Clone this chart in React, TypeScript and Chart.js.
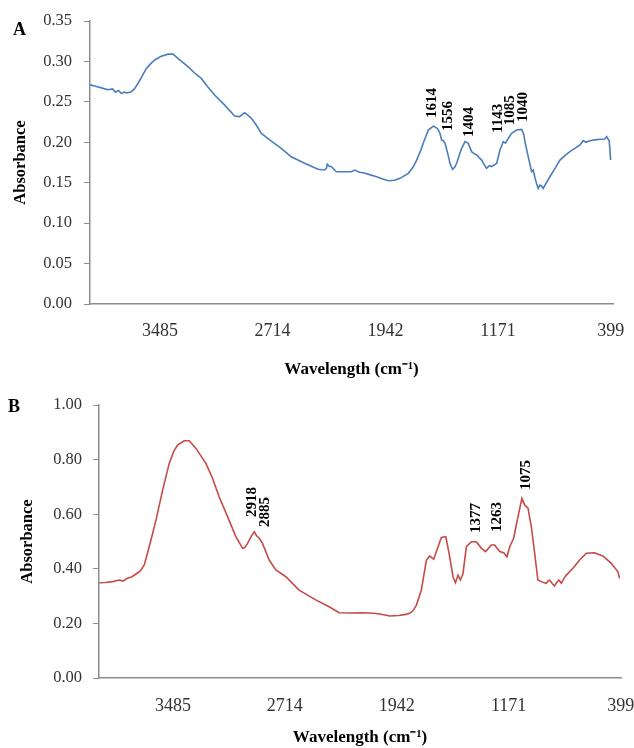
import React, { useEffect, useRef } from "react";
import { Chart, registerables } from "chart.js";

Chart.register(...registerables);

const SERIF = '"Liberation Serif", "Times New Roman", serif';
const AXIS_COLOR = "#8c8c8c";
const TICK_COLOR = "#333333";

// ---------- Panel A ----------
const wavenumbersA = [
  3964, 3920, 3880, 3841, 3810, 3790, 3770, 3750, 3730, 3710, 3681, 3660, 3635, 3610, 3579, 3550,
  3521, 3480, 3430, 3396, 3350, 3293, 3250, 3202, 3160, 3111, 3042, 2974, 2940, 2905, 2880, 2860,
  2826, 2791, 2734, 2655, 2586, 2495, 2403, 2358, 2345, 2340, 2325, 2312, 2278, 2230, 2175, 2152,
  2120, 2093, 2050, 2002, 1960, 1922, 1880, 1842, 1785, 1750, 1728, 1700, 1683, 1648, 1614, 1587,
  1570, 1557, 1545, 1534, 1515, 1500, 1482, 1468, 1454, 1435, 1420, 1397, 1375, 1352, 1335, 1317,
  1300, 1283, 1265, 1249, 1230, 1215, 1195, 1180, 1158, 1135, 1120, 1100, 1078, 1044, 1009, 995,
  987, 964, 941, 930, 918, 907, 896, 884, 873, 862, 840, 816, 780, 747, 710, 679,
  640, 610, 588, 570, 542, 510, 473, 440, 427, 415, 410, 400,
];
const absorbanceA = [
  0.271, 0.269, 0.267, 0.265, 0.266, 0.262, 0.264, 0.2605, 0.262, 0.261, 0.2626, 0.266, 0.273, 0.281, 0.291, 0.297,
  0.3018, 0.306, 0.309, 0.309, 0.302, 0.2935, 0.286, 0.279, 0.269, 0.2585, 0.246, 0.2325, 0.2317, 0.2366, 0.233, 0.2297,
  0.2214, 0.211, 0.203, 0.1926, 0.182, 0.174, 0.1666, 0.1657, 0.168, 0.1728, 0.17, 0.17, 0.1636, 0.1636, 0.1636, 0.1657,
  0.163, 0.1624, 0.16, 0.1574, 0.1545, 0.1525, 0.153, 0.1554, 0.1616, 0.17, 0.178, 0.19, 0.1987, 0.2152, 0.22, 0.2173,
  0.212, 0.2028, 0.202, 0.1987, 0.186, 0.174, 0.1666, 0.169, 0.174, 0.185, 0.1926, 0.2008, 0.1987, 0.1884, 0.186, 0.1843,
  0.181, 0.178, 0.172, 0.1678, 0.171, 0.17, 0.172, 0.174, 0.1905, 0.2008, 0.199, 0.205, 0.211, 0.2152, 0.216, 0.21,
  0.2008, 0.182, 0.1636, 0.1657, 0.156, 0.149, 0.143, 0.147, 0.146, 0.143, 0.15, 0.1574, 0.168, 0.178, 0.184, 0.1884,
  0.193, 0.1966, 0.202, 0.2, 0.202, 0.203, 0.2037, 0.204, 0.207, 0.203, 0.202, 0.178,
];
const peakLabelsA = ["1614", "1556", "1404", "1143", "1085", "1040"];
const peakXA = [1623, 1514, 1370, 1171, 1089, 1000];
const peakYA = [0.23, 0.214, 0.2065, 0.2115, 0.221, 0.225];
const yTicksA = [0, 0.05, 0.1, 0.15, 0.2, 0.25, 0.3, 0.35];

// ---------- Panel B ----------
const wavenumbersB = [
  3993, 3950, 3900, 3855, 3830, 3800, 3770, 3740, 3710, 3683, 3649, 3625, 3602, 3556, 3511, 3480,
  3453, 3408, 3373, 3327, 3258, 3212, 3167, 3109, 3052, 3005, 2990, 2971, 2945, 2925, 2910, 2891,
  2868, 2822, 2776, 2707, 2616, 2501, 2409, 2340, 2260, 2179, 2100, 2060, 1991, 1930, 1880, 1853,
  1830, 1807, 1773, 1755, 1738, 1715, 1700, 1688, 1658, 1635, 1605, 1582, 1555, 1538, 1520, 1504,
  1486, 1463, 1428, 1394, 1359, 1330, 1291, 1268, 1233, 1206, 1183, 1164, 1137, 1107, 1080, 1061,
  1038, 1015, 992, 970, 946, 930, 912, 900, 889, 870, 855, 840, 825, 808, 790, 774,
  728, 682, 636, 579, 522, 464, 418, 407,
];
const absorbanceB = [
  0.349, 0.35, 0.353, 0.359, 0.355, 0.365, 0.37, 0.381, 0.392, 0.414, 0.481, 0.53, 0.579, 0.689, 0.786, 0.83,
  0.853, 0.869, 0.869, 0.841, 0.786, 0.731, 0.664, 0.591, 0.518, 0.475, 0.478, 0.493, 0.52, 0.536, 0.522, 0.512,
  0.493, 0.432, 0.396, 0.371, 0.322, 0.286, 0.261, 0.239, 0.238, 0.239, 0.237, 0.2344, 0.227, 0.229, 0.233, 0.237,
  0.247, 0.267, 0.322, 0.38, 0.432, 0.447, 0.44, 0.435, 0.481, 0.515, 0.518, 0.457, 0.371, 0.349, 0.377, 0.359,
  0.383, 0.481, 0.499, 0.499, 0.475, 0.463, 0.487, 0.487, 0.463, 0.459, 0.444, 0.481, 0.512, 0.591, 0.658, 0.634,
  0.622, 0.554, 0.457, 0.359, 0.353, 0.35, 0.347, 0.355, 0.359, 0.345, 0.337, 0.35, 0.359, 0.347, 0.365, 0.377,
  0.402, 0.432, 0.457, 0.459, 0.447, 0.42, 0.389, 0.365,
];
const peakLabelsB = ["2918", "2885", "1377", "1263", "1075"];
const peakXB = [2941, 2852, 1399, 1254, 1054];
const peakYB = [0.59, 0.553, 0.531, 0.535, 0.689];
const yTicksB = [0, 0.2, 0.4, 0.6, 0.8, 1.0];

const xTickLabels = [3485, 2714, 1942, 1171, 399];

type PanelCfg = {
  letter: string;
  letterX: number;
  letterY: number;
  xs: number[];
  ys: number[];
  color: string;
  xMin: number;
  xMax: number;
  yMax: number;
  yTicks: number[];
  peakLabels: string[];
  peakX: number[];
  peakY: number[];
  yAxisWidth: number;
  xAxisHeight: number;
  padTop: number;
  padRight: number;
  yTickPad: number;
  yTitlePad: number;
  xTickPad: number;
  xTitlePad: number;
};

function makeChart(canvas: HTMLCanvasElement, c: PanelCfg) {
  const overlay = {
    id: "overlay" + c.letter,
    afterDatasetsDraw(chart: any) {
      const { ctx, scales } = chart;
      const x = scales.x;
      const y = scales.y;
      ctx.save();
      ctx.fillStyle = "#000";
      ctx.font = `bold 15px ${SERIF}`;
      ctx.textAlign = "left";
      ctx.textBaseline = "middle";
      c.peakLabels.forEach((lab, i) => {
        const px = x.getPixelForValue(c.peakX[i]);
        const py = y.getPixelForValue(c.peakY[i]);
        ctx.save();
        ctx.translate(px, py);
        ctx.rotate(-Math.PI / 2);
        ctx.fillText(lab, 0, 0);
        ctx.restore();
      });
      ctx.font = `bold 18px ${SERIF}`;
      ctx.textBaseline = "middle";
      ctx.fillText(c.letter, c.letterX, c.letterY);
      ctx.restore();
    },
  };

  return new Chart(canvas, {
    type: "line",
    data: {
      datasets: [
        {
          data: c.xs.map((x, i) => ({ x, y: c.ys[i] })),
          borderColor: c.color,
          borderWidth: 1.6,
          pointRadius: 0,
          tension: 0,
          fill: false,
        },
      ],
    },
    options: {
      responsive: false,
      animation: false,
      devicePixelRatio: 1,
      layout: { padding: { top: c.padTop, right: c.padRight, left: 0, bottom: 0 } },
      plugins: { legend: { display: false }, tooltip: { enabled: false } },
      scales: {
        x: {
          type: "linear",
          reverse: true,
          min: c.xMin,
          max: c.xMax,
          afterBuildTicks: (s: any) => {
            s.ticks = xTickLabels.map((v) => ({ value: v }));
          },
          afterFit: (s: any) => {
            s.height = c.xAxisHeight;
            s.paddingLeft = 0;
            s.paddingRight = 0;
          },
          grid: { display: false, drawTicks: false },
          border: { display: true, color: AXIS_COLOR, width: 1.5 },
          ticks: {
            font: { family: SERIF, size: 18 },
            color: TICK_COLOR,
            padding: c.xTickPad,
            maxRotation: 0,
            autoSkip: false,
            callback: (v: any) => String(v),
          },
          title: {
            display: true,
            text: "Wavelength (cm⁻¹)",
            font: { family: SERIF, size: 17, weight: "bold" },
            color: "#000",
            padding: { top: c.xTitlePad, bottom: 0 },
          },
        },
        y: {
          min: 0,
          max: c.yMax,
          afterBuildTicks: (s: any) => {
            s.ticks = c.yTicks.map((v) => ({ value: v }));
          },
          afterFit: (s: any) => {
            s.width = c.yAxisWidth;
            s.paddingTop = 0;
            s.paddingBottom = 0;
          },
          grid: {
            display: true,
            drawOnChartArea: false,
            drawTicks: true,
            tickLength: 6,
            color: AXIS_COLOR,
            lineWidth: 1,
          },
          border: { display: true, color: AXIS_COLOR, width: 1.5 },
          ticks: {
            font: { family: SERIF, size: 16.5 },
            color: TICK_COLOR,
            padding: c.yTickPad,
            callback: (v: any) => Number(v).toFixed(2),
          },
          title: {
            display: true,
            text: "Absorbance",
            font: { family: SERIF, size: 16.5, weight: "bold" },
            color: "#000",
            padding: { top: c.yTitlePad, bottom: 0 },
          },
        },
      },
    } as any,
    plugins: [overlay],
  });
}

export default function App() {
  const refA = useRef<HTMLCanvasElement>(null);
  const refB = useRef<HTMLCanvasElement>(null);

  useEffect(() => {
    const a = makeChart(refA.current!, {
      letter: "A",
      letterX: 13,
      letterY: 30,
      xs: wavenumbersA,
      ys: absorbanceA,
      color: "#4a7ebb",
      xMin: 384,
      xMax: 3964,
      yMax: 0.35,
      yTicks: yTicksA,
      peakLabels: peakLabelsA,
      peakX: peakXA,
      peakY: peakYA,
      yAxisWidth: 90,
      xAxisHeight: 76,
      padTop: 21,
      padRight: 21,
      yTickPad: 12,
      yTitlePad: 11,
      xTickPad: 16,
      xTitlePad: 3,
    });
    const b = makeChart(refB.current!, {
      letter: "B",
      letterX: 8,
      letterY: 27,
      xs: wavenumbersB,
      ys: absorbanceB,
      color: "#c44b47",
      xMin: 397,
      xMax: 3995,
      yMax: 1.0,
      yTicks: yTicksB,
      peakLabels: peakLabelsB,
      peakX: peakXB,
      peakY: peakYB,
      yAxisWidth: 99,
      xAxisHeight: 70,
      padTop: 25,
      padRight: 13,
      yTickPad: 11,
      yTitlePad: 18,
      xTickPad: 17,
      xTitlePad: 0,
    });
    return () => {
      a.destroy();
      b.destroy();
    };
  }, []);

  return (
    <div style={{ position: "absolute", left: 0, top: 0, width: 634, height: 748, background: "#fff" }}>
      <canvas ref={refA} width={634} height={380} style={{ position: "absolute", left: 0, top: 0 }} />
      <canvas ref={refB} width={634} height={368} style={{ position: "absolute", left: 0, top: 380 }} />
    </div>
  );
}
